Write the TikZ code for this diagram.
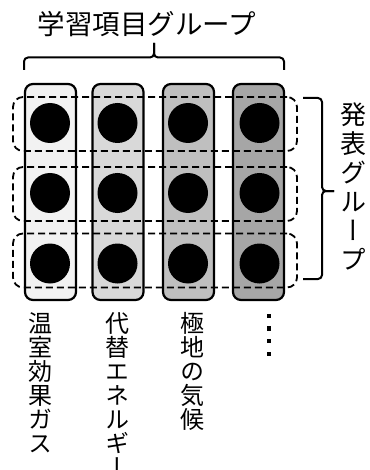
\documentclass[tikz,border=0pt]{standalone}
\usepackage{fontspec}
\newfontfamily\jp{Noto Sans CJK JP}
\newfontfamily\vjp[RawFeature=+vert]{Noto Sans CJK JP}
\definecolor{g1}{HTML}{F2F2F2}
\definecolor{g2}{HTML}{D9D9D9}
\definecolor{g3}{HTML}{BFBFBF}
\definecolor{g4}{HTML}{A6A6A6}
\begin{document}
\begin{tikzpicture}[x=1pt,y=-1pt,
  colbox/.style={draw=black, line width=2.2pt, rounded corners=8pt, minimum width=51pt, minimum height=216pt, inner sep=0pt},
  rowbox/.style={draw=black, line width=1.8pt, dash pattern=on 7pt off 4pt, rounded corners=10pt, minimum width=284pt, minimum height=54pt, inner sep=0pt},
  bigdot/.style={circle, fill=black, minimum size=40pt, inner sep=0pt},
  bracepath/.style={line width=2pt, rounded corners=4pt},
  vlabel/.style={anchor=north, inner sep=0pt, align=center, font=\vjp\fontsize{24}{24}\selectfont},
  sq/.style={fill=black, minimum size=4.2pt, inner sep=0pt}
]
\useasboundingbox (0,0) rectangle (369,470);
% columns
\node[colbox, fill=g1] (c1) at (50.5,192) {};
\node[colbox, fill=g2] (c2) at (118,192) {};
\node[colbox, fill=g3] (c3) at (188.5,192) {};
\node[colbox, fill=g4] (c4) at (258.5,192) {};
% dashed rows
\node[rowbox] (r1) at (155,124) {};
\node[rowbox] (r2) at (155,194) {};
\node[rowbox] (r3) at (155,260.5) {};
% dots
\foreach \i/\x in {1/50,2/117.5,3/188,4/259.5}{
  \foreach \j/\y in {1/123,2/193,3/263.5}{
    \node[bigdot] (d\i\j) at (\x,\y) {};
  }
}
% top brace
\draw[bracepath] (24,70) -- (24,57.5) -- (154,57.5) -- (154,43);
\draw[bracepath] (154,43) -- (154,57.5) -- (284,57.5) -- (284,70);
\node[font=\jp\fontsize{27.5}{30}\selectfont, inner sep=0pt] (title) at (147,24) {学習項目グループ};
% right brace
\draw[bracepath] (303,98) -- (322,98) -- (322,191) -- (334,191);
\draw[bracepath] (334,191) -- (322,191) -- (322,279) -- (303,279);
\node[anchor=north, inner sep=0pt, align=center, font=\vjp\fontsize{26}{29}\selectfont] (pres) at (353,103) {発\\表\\グ\\ル\\ー\\プ};
% bottom labels
\node[vlabel] (l1) at (40,312) {温\\室\\効\\果\\ガ\\ス};
\node[vlabel] (l2) at (117,312) {代\\替\\エ\\ネ\\ル\\ギ\\ー};
\node[vlabel] (l3) at (192,312) {極\\地\\の\\気\\候};
\foreach \k/\y in {1/316,2/328.5,3/341,4/354}{
  \node[sq] (e\k) at (269,\y) {};
}
\end{tikzpicture}
\end{document}
